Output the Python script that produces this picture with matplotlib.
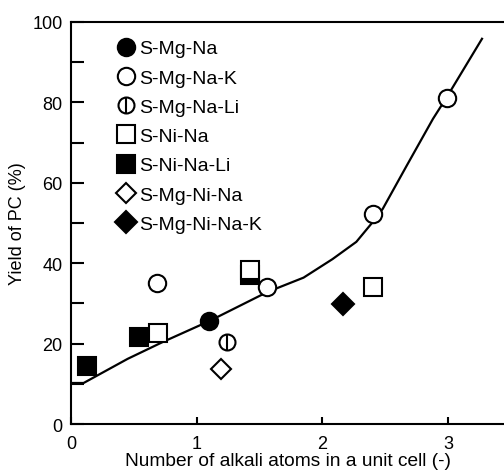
import matplotlib
matplotlib.use("Agg")
import matplotlib.pyplot as plt
from matplotlib.legend_handler import HandlerTuple

plt.rcParams['font.family'] = ['Liberation Sans', 'DejaVu Sans']

# trend curve
curve_x = [0.0, 0.1, 0.45, 0.73, 1.1, 1.56, 1.85, 2.08, 2.27, 2.40, 2.48,
           2.67, 2.88, 2.99, 3.27]
curve_y = [10.2, 10.2, 16.2, 20.4, 25.6, 32.8, 36.4, 41.0, 45.3, 50.2, 53.5,
           64.2, 75.9, 81.3, 95.8]

# catalyst series
mgna_x, mgna_y = [1.10], [25.6]
mgnak_x, mgnak_y = [0.68, 1.56, 2.40, 2.99], [35.1, 34.0, 52.2, 81.0]
mgnali_x, mgnali_y = [1.24], [20.4]
nina_x, nina_y = [0.69, 1.42, 2.40], [22.6, 38.4, 34.0]
ninali_x, ninali_y = [0.13, 0.54, 1.42], [14.5, 21.6, 37.0]
mgnina_x, mgnina_y = [1.19], [13.7]
mgninak_x, mgninak_y = [2.16], [29.9]

fig = plt.figure(figsize=(5.04, 4.77), dpi=100)
ax = fig.add_axes([0.141, 0.109, 0.859, 0.843])

ax.plot(curve_x, curve_y, color='black', lw=1.6, zorder=2,
        solid_joinstyle='round')

ms = 12.5
mew = 1.5
kw = dict(linestyle='none', color='black', mew=mew, zorder=3)
h1, = ax.plot(mgna_x, mgna_y, marker='o', ms=ms, mfc='black', **kw)
h2, = ax.plot(mgnak_x, mgnak_y, marker='o', ms=ms, mfc='white', **kw)
h3a, = ax.plot(mgnali_x, mgnali_y, marker='o', ms=ms - 1, mfc='white', **kw)
h3b, = ax.plot(mgnali_x, mgnali_y, marker='|', ms=ms - 1, **kw)
h5, = ax.plot(ninali_x, ninali_y, marker='s', ms=ms, mfc='black', **kw)
h4, = ax.plot(nina_x, nina_y, marker='s', ms=ms, mfc='white', **kw)
h6, = ax.plot(mgnina_x, mgnina_y, marker='D', ms=ms - 2, mfc='white', **kw)
h7, = ax.plot(mgninak_x, mgninak_y, marker='D', ms=ms - 1, mfc='black', **kw)

labels = ['S-Mg-Na', 'S-Mg-Na-K', 'S-Mg-Na-Li', 'S-Ni-Na', 'S-Ni-Na-Li',
          'S-Mg-Ni-Na', 'S-Mg-Ni-Na-K']
ax.legend([h1, h2, (h3a, h3b), h4, h5, h6, h7], labels,
          handler_map={tuple: HandlerTuple(ndivide=1, pad=0)},
          loc='upper left', bbox_to_anchor=(0.092, 0.975), frameon=False,
          fontsize=14, handlelength=0.8, handletextpad=0.25,
          labelspacing=0.6, borderaxespad=0)

ax.set_xlim(0, 3.445)
ax.set_ylim(0, 100)
ax.set_xticks([0, 1, 2, 3])
ax.set_yticks([0, 20, 40, 60, 80, 100])
ax.set_yticks([10, 30, 50, 70, 90], minor=True)
ax.tick_params(axis='y', which='both', direction='in', length=9, width=1.5,
               labelsize=13, pad=6)
ax.tick_params(axis='x', direction='in', length=5, width=1.5,
               labelsize=13, pad=8)
ax.spines['right'].set_visible(False)
for s in ['left', 'bottom', 'top']:
    ax.spines[s].set_linewidth(1.5)

ax.set_xlabel('Number of alkali atoms in a unit cell (-)', fontsize=13.8, labelpad=0)
ax.set_ylabel('Yield of PC (%)', fontsize=13, labelpad=5)

fig.savefig('out.png', dpi=100)
